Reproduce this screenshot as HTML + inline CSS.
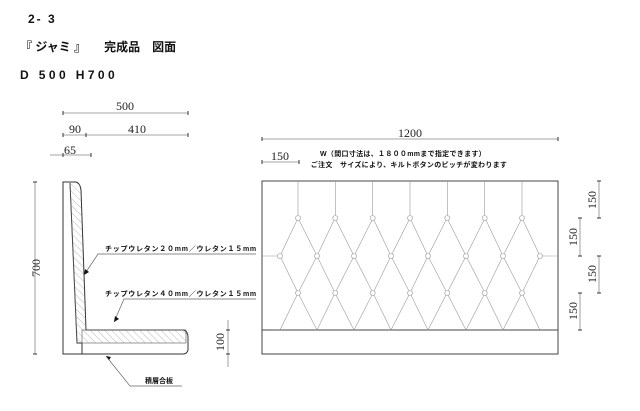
<!DOCTYPE html>
<html><head><meta charset="utf-8"><style>
html,body{margin:0;padding:0;background:#fff;}
svg{display:block;}
.t{font-family:"Liberation Sans","Noto Sans CJK JP",sans-serif;font-weight:bold;fill:#111;}
.n{font-family:"Liberation Serif",serif;fill:#222;}
</style></head><body>
<svg width="640" height="411" viewBox="0 0 640 411" xmlns="http://www.w3.org/2000/svg">
<defs><pattern id="h" width="5" height="5" patternUnits="userSpaceOnUse" patternTransform="rotate(-45)"><line x1="0" y1="0" x2="0" y2="5" stroke="#999" stroke-width="0.7"/></pattern></defs>
<text class="t" x="28" y="23" font-size="12" letter-spacing="2">2- 3</text>
<text class="t" x="20" y="51" font-size="12" font-weight="normal">『 ジャミ 』　　完成品　図面</text>
<text class="t" x="20" y="79" font-size="12" letter-spacing="3.4">D 500 H700</text>
<g stroke="#888" stroke-width="0.8" fill="none">
<line x1="63" y1="113" x2="188" y2="113"/><line x1="63" y1="135" x2="188" y2="135"/><line x1="50" y1="155" x2="91" y2="155"/>
<line x1="35" y1="182" x2="35" y2="354"/><line x1="228" y1="320" x2="228" y2="367"/>
<line x1="262" y1="139" x2="558" y2="139"/><line x1="262" y1="162" x2="299" y2="162"/>
<line x1="599" y1="181" x2="599" y2="218"/><line x1="599" y1="256" x2="599" y2="293"/>
<line x1="580" y1="218" x2="580" y2="256"/><line x1="580" y1="293" x2="580" y2="330"/>
</g>
<g stroke="#333" stroke-width="1">
<path d="M63,111v4M188,111v4M63,133v4M86,133v4M188,133v4M63,153v4M91,153v4M33,182h4M33,354h4M226,330h4M226,354h4M262,137v4M558,137v4M262,160v4M299,160v4M597,181h4M597,218h4M597,256h4M597,293h4M578,218h4M578,256h4M578,293h4M578,330h4"/>
</g>
<text class="n" x="125" y="110" font-size="12" text-anchor="middle">500</text>
<text class="n" x="75" y="133" font-size="12" text-anchor="middle">90</text>
<text class="n" x="137" y="133" font-size="12" text-anchor="middle">410</text>
<text class="n" x="70" y="154" font-size="12" text-anchor="middle">65</text>
<text class="n" x="410" y="137" font-size="12" text-anchor="middle">1200</text>
<text class="n" x="280" y="160" font-size="12" text-anchor="middle">150</text>
<text class="n" font-size="12" text-anchor="middle" transform="translate(40,268) rotate(-90)">700</text>
<text class="n" font-size="12" text-anchor="middle" transform="translate(224,342) rotate(-90)">100</text>
<text class="n" font-size="12" text-anchor="middle" transform="translate(596,200) rotate(-90)">150</text>
<text class="n" font-size="12" text-anchor="middle" transform="translate(577,237) rotate(-90)">150</text>
<text class="n" font-size="12" text-anchor="middle" transform="translate(596,274) rotate(-90)">150</text>
<text class="n" font-size="12" text-anchor="middle" transform="translate(577,311) rotate(-90)">150</text>
<text class="t" x="403" y="156" font-size="7" text-anchor="middle" letter-spacing="0.3">W（間口寸法は、１８００mmまで指定できます）</text>
<text class="t" x="409" y="167" font-size="7" text-anchor="middle" letter-spacing="0.3">ご注文　サイズにより、キルトボタンのピッチが変わります</text>
<!-- side profile -->
<g stroke="#333" stroke-width="1" fill="none">
<path d="M63,354 L63,182 L76,182 Q80,183 81,190 L86,330 L184,330 Q188,332 188,337 L188,350 Q187,354 183,354 Z"/>
<path d="M70,183 L77,343 L82,343 L82,354"/>
</g>
<path d="M70,184 L80,184 L86,330 L83,330 L82,343 L77,343 Z" fill="url(#h)"/>
<path d="M70,184 L77,343" stroke="#555" stroke-width="0.6" fill="none"/>
<rect x="82" y="330" width="104" height="13" fill="url(#h)" stroke="#555" stroke-width="0.6"/>
<g stroke="#666" stroke-width="0.7" fill="none">
<polyline points="84,275 98,254 256,254"/>
<polyline points="114,322 124,299 256,299"/>
<polyline points="106,356 130,386 182,386"/>
</g>
<path d="M84,275 l1,-6 l4,3z M114,322 l1,-6 l4,3z M106,356 l5,1 l-2,3z" fill="#111"/>
<text class="t" x="105" y="251" font-size="7" letter-spacing="0.75">チップウレタン２０mm／ウレタン１５mm</text>
<text class="t" x="105" y="296" font-size="7" letter-spacing="0.75">チップウレタン４０mm／ウレタン１５mm</text>
<text class="t" x="145" y="383" font-size="7">積層合板</text>
<!-- front -->
<rect x="262" y="181" width="296" height="173" fill="none" stroke="#444" stroke-width="1"/>
<line x1="262" y1="330" x2="558" y2="330" stroke="#444" stroke-width="1"/>
<g stroke="#999" stroke-width="0.6" fill="none">
<line x1="262" y1="256" x2="280" y2="256"/><line x1="540" y1="256" x2="558" y2="256"/>
<path d="M298,181V218M335.3,181V218M372.7,181V218M410,181V218M447.3,181V218M484.7,181V218M522,181V218"/>
<path d="M280,256L298,218L317,256L335,218L354,256L373,218L391,256L410,218L428,256L447,218L466,256L485,218L503,256L522,218L540,256"/>
<path d="M280,256L298,293L317,256L335,293L354,256L373,293L391,256L410,293L428,256L447,293L466,256L485,293L503,256L522,293L540,256"/>
<path d="M280,330L298,293L317,330L335,293L354,330L373,293L391,330L410,293L428,330L447,293L466,330L485,293L503,330L522,293L540,330"/>
</g>
<g stroke="#999" stroke-width="0.6" fill="#fff">
<circle cx="298" cy="218" r="2.5"/><circle cx="335.3" cy="218" r="2.5"/><circle cx="372.7" cy="218" r="2.5"/><circle cx="410" cy="218" r="2.5"/><circle cx="447.3" cy="218" r="2.5"/><circle cx="484.7" cy="218" r="2.5"/><circle cx="522" cy="218" r="2.5"/>
<circle cx="298" cy="293" r="2.5"/><circle cx="335.3" cy="293" r="2.5"/><circle cx="372.7" cy="293" r="2.5"/><circle cx="410" cy="293" r="2.5"/><circle cx="447.3" cy="293" r="2.5"/><circle cx="484.7" cy="293" r="2.5"/><circle cx="522" cy="293" r="2.5"/>
<circle cx="280" cy="256" r="2.5"/><circle cx="317" cy="256" r="2.5"/><circle cx="354" cy="256" r="2.5"/><circle cx="391" cy="256" r="2.5"/><circle cx="428" cy="256" r="2.5"/><circle cx="466" cy="256" r="2.5"/><circle cx="503" cy="256" r="2.5"/><circle cx="540" cy="256" r="2.5"/>
</g>
</svg>
</body></html>
